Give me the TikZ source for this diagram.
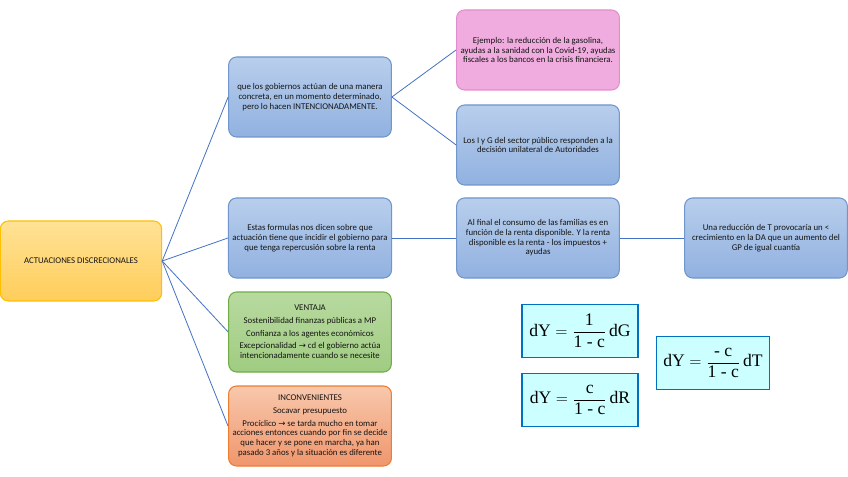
\documentclass[tikz,border=0pt]{standalone}
\usepackage{amsmath}
\usepackage{fontspec}
\setmainfont{Carlito}
\newfontfamily\formfont{Liberation Serif}
\newfontfamily\symfont{DejaVu Sans}
\usepackage{tikz}
\usepackage{xcolor}
\usetikzlibrary{positioning}
\definecolor{dark}{RGB}{20, 20, 20}
\definecolor{linkblue}{RGB}{68, 114, 196}
\definecolor{orangetop}{RGB}{255, 226, 150}
\definecolor{orangebot}{RGB}{255, 205, 90}
\definecolor{orangeline}{RGB}{255, 192, 0}
\definecolor{bluetop}{RGB}{184, 206, 236}
\definecolor{bluebot}{RGB}{145, 177, 224}
\definecolor{blueline}{RGB}{112, 150, 205}
\definecolor{pinkfill}{RGB}{240, 172, 222}
\definecolor{pinkline}{RGB}{226, 142, 206}
\definecolor{greentop}{RGB}{184, 218, 160}
\definecolor{greenbot}{RGB}{160, 204, 130}
\definecolor{greenline}{RGB}{112, 173, 71}
\definecolor{salmontop}{RGB}{248, 200, 172}
\definecolor{salmonbot}{RGB}{240, 150, 108}
\definecolor{salmonline}{RGB}{237, 125, 49}
\definecolor{formfill}{RGB}{204, 255, 255}
\definecolor{formline}{RGB}{0, 112, 192}
\newcommand{\fm}[1]{\text{\formfont #1}}
\newcommand{\rarr}{{\symfont\fontsize{6.4}{6}\selectfont →}}
\tikzset{
    box/.style={rectangle, rounded corners=6pt, thick, align=center, text=dark,
        font=\fontsize{6.6}{7.3}\selectfont, inner sep=3pt,
        minimum width=122pt, minimum height=60pt},
    rootbox/.style={box, top color=orangetop, bottom color=orangebot, draw=orangeline},
    bluebox/.style={box, top color=bluetop, bottom color=bluebot, draw=blueline},
    pinkbox/.style={box, fill=pinkfill, draw=pinkline},
    greenbox/.style={box, top color=greentop, bottom color=greenbot, draw=greenline},
    salmonbox/.style={box, top color=salmontop, bottom color=salmonbot, draw=salmonline},
    formula/.style={rectangle, draw=formline, line width=1.1pt, fill=formfill, inner sep=2pt,
        font=\fontsize{13.2}{15}\selectfont},
    conn/.style={draw=linkblue, line width=0.6pt}
}

\begin{document}
\begin{tikzpicture}[x=0.75pt, y=-0.75pt]
    \useasboundingbox[fill=white] (0,0) rectangle (848,477);
    % central node
    \node[rootbox, minimum width=121pt] (root) at (81,261) {ACTUACIONES DISCRECIONALES};
    % first level
    \node[bluebox] (gobiernos) at (310,97) {que los gobiernos act\'uan de una manera\\concreta, en un momento determinado,\\pero lo hacen INTENCIONADAMENTE.};
    \node[bluebox] (formulas) at (310,238) {Estas formulas nos dicen sobre que\\actuaci\'on tiene que incidir el gobierno para\\que tenga repercusi\'on sobre la renta};
    \node[greenbox] (ventaja) at (310,332) {VENTAJA\\[2.2pt]Sostenibilidad finanzas p\'ublicas a MP\\[2.2pt]Confianza a los agentes econ\'omicos\\[2.2pt]Excepcionalidad \rarr{} cd el gobierno act\'ua\\intencionadamente cuando se necesite};
    \node[salmonbox] (inconv) at (310,426) {INCONVENIENTES\\[2.2pt]Socavar presupuesto\\[2.2pt]Proc\'iclico \rarr{} se tarda mucho en tomar\\acciones entonces cuando por fin se decide\\que hacer y se pone en marcha, ya han\\pasado 3 a\~nos y la situaci\'on es diferente};
    % second level
    \node[pinkbox] (ejemplo) at (538,50) {Ejemplo: la reducci\'on de la gasolina,\\ayudas a la sanidad con la Covid-19, ayudas\\fiscales a los bancos en la crisis financiera.};
    \node[bluebox] (sectorpub) at (538,145) {Los I y G del sector p\'ublico responden a la\\decisi\'on unilateral de Autoridades};
    \node[bluebox] (renta) at (538,238) {Al final el consumo de las familias es en\\funci\'on de la renta disponible. Y la renta\\disponible es la renta - los impuestos +\\ayudas};
    \node[bluebox] (reduccion) at (766,238) {Una reducci\'on de T provocar\'ia un <\\crecimiento en la DA que un aumento del\\GP de igual cuant\'ia};
    % formulas
    \node[formula, minimum width=87pt, minimum height=40pt] (fdg) at (580,331) {$\fm{dY}=\dfrac{\fm{1}}{\fm{1 - c}}\,\fm{dG}$};
    \node[formula, minimum width=87pt, minimum height=40pt] (fdr) at (580,400) {$\fm{dY}=\dfrac{\fm{c}}{\fm{1 - c}}\,\fm{dR}$};
    \node[formula, minimum width=85pt, minimum height=40pt] (fdt) at (713,363) {$\fm{dY}=\dfrac{\fm{- c}}{\fm{1 - c}}\,\fm{dT}$};
    % connectors
    \draw[conn] (root.east) -- (gobiernos.west);
    \draw[conn] (root.east) -- (formulas.west);
    \draw[conn] (root.east) -- (ventaja.west);
    \draw[conn] (root.east) -- (inconv.west);
    \draw[conn] (gobiernos.east) -- (ejemplo.west);
    \draw[conn] (gobiernos.east) -- (sectorpub.west);
    \draw[conn] (formulas.east) -- (renta.west);
    \draw[conn] (renta.east) -- (reduccion.west);
\end{tikzpicture}
\end{document}
